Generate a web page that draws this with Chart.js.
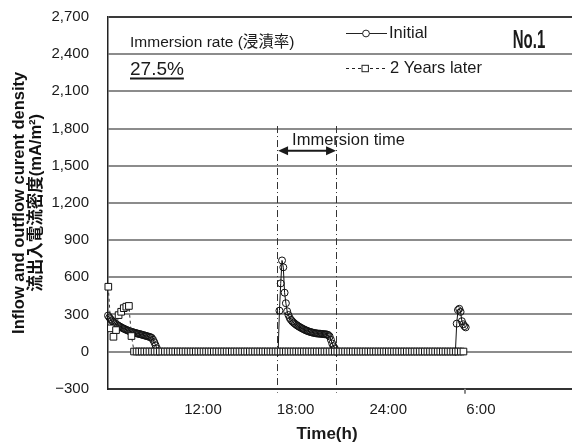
<!DOCTYPE html>
<html lang="ja">
<head>
<meta charset="UTF-8">
<title>Inflow and outflow current density - No.1</title>
<script src="https://cdn.jsdelivr.net/npm/chart.js"></script>
<style>
  html, body { margin: 0; padding: 0; background: #fff; }
  #chart { display: block; }
</style>
</head>
<body>
<canvas id="chart" width="572" height="445"></canvas>
<script>
// time axis in hours of day, running past midnight (30 = 6:00 next morning)
const tickHours = [12, 18, 24, 30];
const tickLabels = ['12:00', '18:00', '24:00', '6:00'];

// Initial: logged every 5 minutes, three separate runs (mA/m2)
const initialStep = 5;
const initialStarts = [5.85, 16.87, 28.35];
const initialMorning = [
  290, 275, 262, 250, 240, 232, 224, 216, 209, 203,
  197, 191, 186, 181, 176, 172, 167, 163, 160, 157,
  154, 151, 148, 145, 142, 140, 137, 134, 131, 128,
  125, 122, 119, 116, 110, 95, 75, 50, 25, 0
];
const initialImmersion = [
  0, 330, 550, 735, 680, 475, 390, 325, 295, 270,
  255, 243, 233, 224, 216, 209, 202, 196, 190, 184,
  179, 174, 169, 165, 161, 158, 155, 152, 150, 148,
  146, 145, 144, 143, 142, 141, 140, 139, 137, 133,
  122, 95, 65, 42, 25, 0
];
const initialNextDay = [0, 225, 335, 345, 320, 245, 220, 205, 195];

// 2 Years later: logged every 10 minutes
const laterStep = 10;
const laterStart = 5.87;
const laterValues = [
  523, 187, 119, 173, 294, 321, 350, 362, 368, 125,
  0, 0, 0, 0, 0, 0, 0, 0, 0, 0, 0, 0, 0, 0, 0, 0, 0, 0, 0, 0,
  0, 0, 0, 0, 0, 0, 0, 0, 0, 0, 0, 0, 0, 0, 0, 0, 0, 0, 0, 0,
  0, 0, 0, 0, 0, 0, 0, 0, 0, 0, 0, 0, 0, 0, 0, 0, 0, 0, 0, 0,
  0, 0, 0, 0, 0, 0, 0, 0, 0, 0, 0, 0, 0, 0, 0, 0, 0, 0, 0, 0,
  0, 0, 0, 0, 0, 0, 0, 0, 0, 0, 0, 0, 0, 0, 0, 0, 0, 0, 0, 0,
  0, 0, 0, 0, 0, 0, 0, 0, 0, 0, 0, 0, 0, 0, 0, 0, 0, 0, 0, 0,
  0, 0, 0, 0, 0, 0, 0, 0, 0
];

// immersion window (start / end of immersion) and the arrow / line tops
const immersionHours = [16.8, 20.62];
const immersionTop = 1820;
const immersionArrow = 1620;
const immersionRate = '27.5%';
// extra axis mark near the end of the record
const axisMarkHours = [29.0];

const FONT = "'Liberation Sans', 'Noto Sans CJK JP', sans-serif";
const INK = '#1a1a1a';

function toPoints(start, stepMin, values) {
  return values.map((v, i) => ({ x: start + i * stepMin / 60, y: v }));
}

// join the runs with a null so the line breaks between them
const initialRuns = [initialMorning, initialImmersion, initialNextDay];
const initialPoints = [];
initialRuns.forEach((run, k) => {
  if (k > 0) initialPoints.push({ x: initialStarts[k] - 0.5, y: null });
  initialPoints.push(...toPoints(initialStarts[k], initialStep, run));
});
const laterPoints = toPoints(laterStart, laterStep, laterValues);

// dash-dot lines marking the immersion window, under the data
const immersionLines = {
  id: 'immersionLines',
  beforeDatasetsDraw(chart) {
    const { ctx, scales: { x, y } } = chart;
    ctx.save();
    ctx.strokeStyle = '#333';
    ctx.lineWidth = 1;
    ctx.setLineDash([7, 3, 1, 3]);
    immersionHours.forEach(h => {
      const px = Math.round(x.getPixelForValue(h)) + 0.5;
      ctx.beginPath();
      ctx.moveTo(px, y.getPixelForValue(immersionTop));
      ctx.lineTo(px, y.bottom + 4);
      ctx.stroke();
    });
    ctx.setLineDash([]);
    ctx.strokeStyle = '#888';
    ctx.lineWidth = 2;
    axisMarkHours.forEach(h => {
      const px = Math.round(x.getPixelForValue(h));
      ctx.beginPath();
      ctx.moveTo(px, y.bottom);
      ctx.lineTo(px, y.bottom + 5);
      ctx.stroke();
    });
    ctx.restore();
  }
};

function arrowHead(ctx, x, y, dir) {
  ctx.beginPath();
  ctx.moveTo(x, y);
  ctx.lineTo(x - dir * 10, y - 4.5);
  ctx.lineTo(x - dir * 10, y + 4.5);
  ctx.closePath();
  ctx.fill();
}

// texts, arrow and legend drawn inside the plot
const annotations = {
  id: 'annotations',
  afterDraw(chart) {
    const { ctx, scales: { x, y } } = chart;
    ctx.save();
    ctx.fillStyle = INK;
    ctx.strokeStyle = INK;
    ctx.textBaseline = 'middle';

    // immersion time arrow
    const x0 = x.getPixelForValue(immersionHours[0]) + 1;
    const x1 = x.getPixelForValue(immersionHours[1]);
    const ay = y.getPixelForValue(immersionArrow);
    ctx.lineWidth = 2;
    ctx.beginPath();
    ctx.moveTo(x0 + 6, ay);
    ctx.lineTo(x1 - 6, ay);
    ctx.stroke();
    arrowHead(ctx, x0, ay, -1);
    arrowHead(ctx, x1, ay, 1);
    ctx.font = '16.5px ' + FONT;
    ctx.textAlign = 'left';
    ctx.fillText('Immersion time', x0 + 14, ay - 10);

    // immersion rate
    ctx.font = '15.5px ' + FONT;
    ctx.fillText('Immersion rate (浸漬率)', 130, 43);
    ctx.font = '19px ' + FONT;
    ctx.fillText(immersionRate, 130, 70);
    const w = ctx.measureText(immersionRate).width;
    ctx.lineWidth = 2;
    ctx.beginPath();
    ctx.moveTo(130, 78.5);
    ctx.lineTo(130 + w, 78.5);
    ctx.stroke();

    // legend
    ctx.font = '16.5px ' + FONT;
    ctx.lineWidth = 1;
    ctx.strokeStyle = '#222';
    ctx.beginPath();
    ctx.moveTo(346, 33.5);
    ctx.lineTo(387, 33.5);
    ctx.stroke();
    ctx.beginPath();
    ctx.arc(366, 33.5, 3.4, 0, Math.PI * 2);
    ctx.fillStyle = '#fff';
    ctx.fill();
    ctx.stroke();
    ctx.fillStyle = INK;
    ctx.fillText('Initial', 389, 33.5);

    ctx.setLineDash([3, 3]);
    ctx.beginPath();
    ctx.moveTo(346, 68.5);
    ctx.lineTo(387, 68.5);
    ctx.stroke();
    ctx.setLineDash([]);
    ctx.fillStyle = '#fff';
    ctx.fillRect(362, 65.3, 6.4, 6.4);
    ctx.strokeRect(362, 65.3, 6.4, 6.4);
    ctx.fillStyle = INK;
    ctx.fillText('2 Years later', 390, 68.5);

    // specimen number, condensed bold
    ctx.save();
    ctx.translate(529, 41);
    ctx.scale(0.6, 1);
    ctx.font = 'bold 25px ' + FONT;
    ctx.textAlign = 'center';
    ctx.fillText('No.1', 0, 0);
    ctx.restore();

    // x axis title
    ctx.font = 'bold 17px ' + FONT;
    ctx.textAlign = 'center';
    ctx.fillText('Time(h)', 327, 434.5);
    ctx.restore();
  }
};

Chart.defaults.font.family = FONT;
Chart.defaults.color = INK;

new Chart(document.getElementById('chart'), {
  type: 'line',
  data: {
    datasets: [
      {
        label: 'Initial',
        data: initialPoints,
        borderColor: '#111',
        borderWidth: 1,
        pointStyle: 'circle',
        pointRadius: 3.5,
        pointBorderWidth: 1,
        pointBorderColor: '#111',
        pointBackgroundColor: 'rgba(0,0,0,0)',
        spanGaps: false,
        clip: false,
        order: 1
      },
      {
        label: '2 Years later',
        data: laterPoints,
        borderColor: '#333',
        borderWidth: 1,
        borderDash: [3, 3],
        pointStyle: 'rect',
        pointRadius: 4.7,
        pointBorderWidth: 1,
        pointBorderColor: '#111',
        pointBackgroundColor: '#fff',
        clip: false,
        order: 0
      }
    ]
  },
  options: {
    responsive: false,
    animation: false,
    devicePixelRatio: 1,
    layout: { autoPadding: false, padding: { top: 17, right: 0, bottom: 0, left: 0 } },
    plugins: {
      legend: { display: false },
      tooltip: { enabled: false }
    },
    scales: {
      x: {
        type: 'linear',
        min: 5.85,
        max: 35.9,
        afterBuildTicks: s => { s.ticks = tickHours.map(v => ({ value: v })); },
        afterFit: s => {
          s.height = 56.3;
          s.paddingLeft = 0;
          s.paddingRight = 0;
        },
        ticks: {
          autoSkip: false,
          maxRotation: 0,
          padding: 12,
          font: { size: 15 },
          color: INK,
          callback: v => tickLabels[tickHours.indexOf(v)]
        },
        grid: { drawOnChartArea: false, drawTicks: false },
        border: { color: '#333', width: 2 }
      },
      y: {
        min: -300,
        max: 2700,
        afterFit: s => {
          s.width = 108;
          s.paddingTop = 0;
          s.paddingBottom = 0;
        },
        ticks: {
          stepSize: 300,
          padding: 19,
          font: { size: 15 },
          color: INK,
          callback: v => (v < 0 ? '−' : '') + Math.abs(v).toLocaleString('en-US')
        },
        grid: {
          drawTicks: false,
          lineWidth: 2,
          color: c => (c.tick && c.tick.value === 2700 ? '#3a3a3a' : '#8c8c8c')
        },
        border: { color: '#222', width: 1.5 },
        title: {
          display: true,
          text: ['Inflow and outflow curent density', '流出入電流密度(mA/m²)'],
          font: { size: 16.5, weight: 'bold', lineHeight: '17px' },
          padding: { top: 10.5, bottom: 0 },
          color: '#111'
        }
      }
    }
  },
  plugins: [immersionLines, annotations]
});
</script>
</body>
</html>
